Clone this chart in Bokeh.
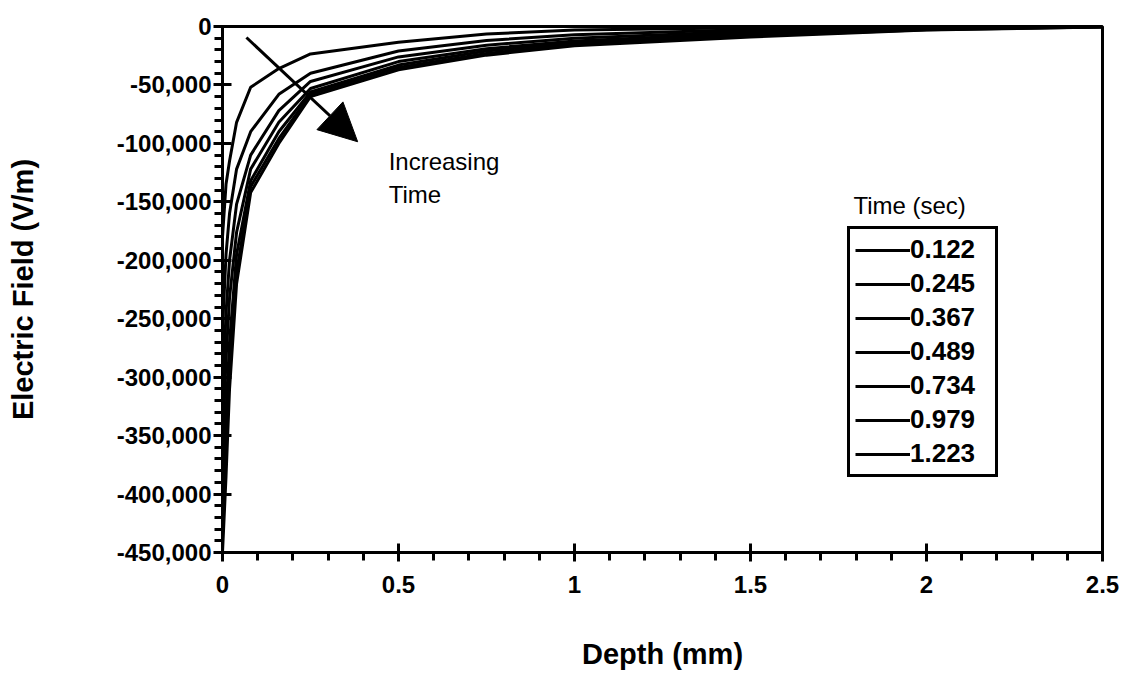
from bokeh.plotting import figure
from bokeh.models import (Range1d, FixedTicker, Legend, LegendItem, Arrow,
                          NormalHead, Label)
from bokeh.embed import file_html
from bokeh.resources import INLINE

# ---------------- data ----------------
depth_mm = [0, 0.01, 0.02, 0.04, 0.08, 0.16, 0.25, 0.5, 0.75, 1.0, 1.5, 2.0, 2.5]

time_labels = ["0.122", "0.245", "0.367", "0.489", "0.734", "0.979", "1.223"]

ef_0122 = [-180000, -135000, -115000, -82000, -52000, -36000, -23500, -13500, -6500, -3000, -1000, -300, 0]
ef_0245 = [-260000, -195000, -160000, -122000, -90000, -58000, -40000, -21000, -12000, -7000, -2500, -800, 0]
ef_0367 = [-320000, -245000, -200000, -152000, -110000, -72000, -47000, -26000, -16000, -10000, -4000, -1200, 0]
ef_0489 = [-360000, -285000, -232000, -176000, -122000, -82000, -53000, -30000, -19000, -12500, -5500, -1700, -200]
ef_0734 = [-400000, -330000, -270000, -195000, -132000, -90000, -56000, -33000, -21000, -14000, -7000, -2200, -300]
ef_0979 = [-430000, -360000, -295000, -210000, -137000, -96000, -58000, -35000, -23000, -15500, -8000, -2700, -400]
ef_1223 = [-450000, -385000, -310000, -220000, -142000, -100000, -60000, -37000, -24500, -16500, -9000, -3000, -500]

x_ticks = [0, 0.5, 1, 1.5, 2, 2.5]
x_tick_labels = ["0", "0.5", "1", "1.5", "2", "2.5"]
y_ticks = [-450000, -400000, -350000, -300000, -250000, -200000, -150000, -100000, -50000, 0]
y_tick_labels = ["-450,000", "-400,000", "-350,000", "-300,000", "-250,000",
                 "-200,000", "-150,000", "-100,000", "-50,000", "0"]

# annotation positions (data units)
arrow_start = (0.068, -9400)
arrow_end = (0.384, -98600)
note_x = 0.472
note_lines = [("Increasing", -115800), ("Time", -143300)]
legend_title_pos = (1.952, -153500)

series = [ef_0122, ef_0245, ef_0367, ef_0489, ef_0734, ef_0979, ef_1223]

FONT = "Liberation Sans"

p = figure(width=1130, height=675, output_backend="svg", toolbar_location=None,
           x_range=Range1d(0, 2.5), y_range=Range1d(-450000, 0),
           min_border_left=222, min_border_right=28, min_border_top=26,
           min_border_bottom=123)
p.grid.visible = False
p.outline_line_color = "black"
p.outline_line_width = 3
p.background_fill_color = "white"
p.border_fill_color = "white"

xa = p.xaxis[0]
ya = p.yaxis[0]
xa.ticker = FixedTicker(ticks=x_ticks, minor_ticks=[round(0.1 * i, 1) for i in range(26)])
ya.ticker = FixedTicker(ticks=y_ticks, minor_ticks=list(range(-450000, 1, 10000)))
xa.major_label_overrides = {float(k): v for k, v in zip(x_ticks, x_tick_labels)}
ya.major_label_overrides = {float(k): v for k, v in zip(y_ticks, y_tick_labels)}

for ax in (xa, ya):
    ax.axis_line_width = 3
    ax.axis_line_color = "black"
    ax.major_tick_line_width = 3
    ax.minor_tick_line_width = 3
    ax.major_tick_line_color = "black"
    ax.minor_tick_line_color = "black"
    ax.major_tick_in = 9
    ax.major_tick_out = 9
    ax.minor_tick_in = 0
    ax.minor_tick_out = 8
    ax.major_label_text_font = FONT
    ax.major_label_text_font_style = "bold"
    ax.major_label_text_font_size = "24px"
    ax.major_label_text_color = "black"
    ax.axis_label_text_font = FONT
    ax.axis_label_text_font_style = "bold"
    ax.axis_label_text_font_size = "29px"
    ax.axis_label_text_color = "black"

xa.axis_label = "Depth (mm)"
ya.axis_label = "Electric Field (V/m)"
xa.major_label_standoff = 14
xa.axis_label_standoff = 42
ya.major_label_standoff = 2
ya.axis_label_standoff = 75

items = []
for lab, vals in zip(time_labels, series):
    r = p.line(depth_mm, vals, line_color="black", line_width=3)
    items.append(LegendItem(label=lab, renderers=[r]))

legend = Legend(items=items, location=(625, 75), orientation="vertical",
                border_line_color="black", border_line_width=3,
                border_line_alpha=1,
                background_fill_color="white", background_fill_alpha=1,
                padding=5, spacing=3, margin=0,
                glyph_width=55, glyph_height=26, label_height=26,
                label_width=80, label_standoff=0,
                label_text_font=FONT, label_text_font_style="bold",
                label_text_font_size="26px", label_text_color="black")
p.add_layout(legend, "center")

p.add_layout(Label(x=legend_title_pos[0], y=legend_title_pos[1], text="Time (sec)",
                   text_align="center", text_baseline="middle",
                   text_font=FONT, text_font_size="24px", text_color="black"))

p.add_layout(Arrow(end=NormalHead(size=38, fill_color="black", line_color="black"),
                   x_start=arrow_start[0], y_start=arrow_start[1],
                   x_end=arrow_end[0], y_end=arrow_end[1],
                   line_width=3, line_color="black"))

for txt, yy in note_lines:
    p.add_layout(Label(x=note_x, y=yy, text=txt, text_align="left",
                       text_baseline="alphabetic", text_font=FONT,
                       text_font_size="24px", text_color="black"))

open("out.html", "w").write(file_html(p, INLINE))
